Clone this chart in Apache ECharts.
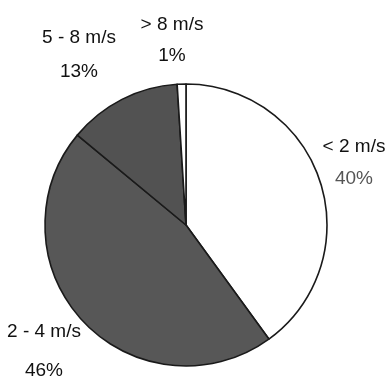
<!DOCTYPE html>
<html>
<head>
<meta charset="utf-8">
<script src="https://cdn.jsdelivr.net/npm/echarts@6/dist/echarts.min.js"></script>
<style>html,body{margin:0;padding:0;background:#fff}#c{width:388px;height:381px}</style>
</head>
<body>
<div id="c"></div>
<script>
// Data
var categories = ['< 2 m/s', '2 - 4 m/s', '5 - 8 m/s', '> 8 m/s'];
var percents = [40, 46, 13, 1];

// Styling / layout (kept separate from data)
var sliceColors = ['#ffffff', '#575757', '#525252', '#ffffff'];
var labelPos = [[354, 163], [44, 351], [79, 55], [172, 40]];
var lineGaps = [32, 39, 34, 31];
var pctColors = ['#555555', '#111111', '#111111', '#111111'];

var chart = echarts.init(document.getElementById('c'), null, {renderer: 'canvas'});
var font = '"Liberation Sans Narrow", "Arial Narrow", "Liberation Sans", sans-serif';
var data = categories.map(function (name, i) {
  return {
    name: name,
    value: percents[i],
    itemStyle: {color: sliceColors[i]},
    label: {
      rich: {
        n: {fontSize: 19, fontFamily: font, color: '#111', lineHeight: lineGaps[i]},
        p: {fontSize: 19, fontFamily: font, color: pctColors[i], lineHeight: lineGaps[i]}
      }
    }
  };
});

chart.setOption({
  animation: false,
  backgroundColor: '#ffffff',
  series: [{
    type: 'pie',
    center: [186, 225],
    radius: 141,
    startAngle: 90,
    clockwise: true,
    avoidLabelOverlap: false,
    percentPrecision: 0,
    itemStyle: {borderColor: '#1a1a1a', borderWidth: 1.6},
    label: {
      show: true,
      position: 'outside',
      formatter: '{n|{b}}\n{p|{d}%}',
      align: 'center'
    },
    labelLine: {show: false},
    labelLayout: function (params) {
      var p = labelPos[params.dataIndex];
      return {x: p[0], y: p[1], align: 'center', verticalAlign: 'middle'};
    },
    emphasis: {disabled: true},
    data: data
  }]
});
</script>
</body>
</html>
